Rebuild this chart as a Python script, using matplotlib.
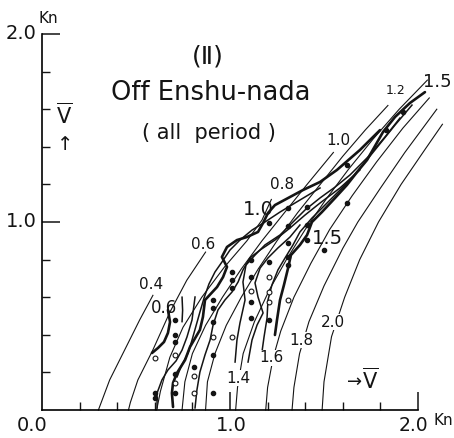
import numpy as np
import matplotlib.pyplot as plt

# curvas teoricas (parametro 0.4 ... 2.0), x = V escalar, y = V vectorial  [Kn]
t04 = [(0.30, 0.0), (0.33, 0.08), (0.36, 0.16), (0.43, 0.30), (0.52, 0.48), (0.59, 0.61)]
t06 = [(0.46, 0.0), (0.47, 0.04), (0.51, 0.16), (0.59, 0.32), (0.68, 0.52), (0.77, 0.69), (0.87, 0.84)]
t08 = [(0.61, 0.0), (0.63, 0.10), (0.68, 0.28), (0.75, 0.44), (0.85, 0.60), (0.97, 0.76),
       (1.09, 0.90), (1.17, 1.01), (1.22, 1.12)]
t10 = [(0.745, 0.0), (0.76, 0.15), (0.80, 0.30), (0.87, 0.45), (0.96, 0.60), (1.06, 0.75),
       (1.17, 0.90), (1.29, 1.05), (1.41, 1.20), (1.55, 1.37)]
t12 = [(0.87, 0.0), (0.88, 0.15), (0.92, 0.30), (0.98, 0.45), (1.06, 0.60), (1.15, 0.75),
       (1.25, 0.90), (1.36, 1.05), (1.48, 1.20), (1.60, 1.35), (1.72, 1.49), (1.84, 1.62)]
t14 = [(1.03, 0.0), (1.04, 0.12), (1.07, 0.30), (1.13, 0.47), (1.21, 0.64), (1.30, 0.80),
       (1.40, 0.96), (1.51, 1.12), (1.63, 1.28), (1.76, 1.44), (1.90, 1.60), (2.05, 1.755)]
t16 = [(1.19, 0.0), (1.20, 0.12), (1.23, 0.28), (1.27, 0.42), (1.34, 0.60), (1.43, 0.78),
       (1.53, 0.96), (1.65, 1.14), (1.78, 1.32), (1.92, 1.50), (2.06, 1.66)]
t18 = [(1.33, 0.0), (1.34, 0.12), (1.37, 0.30), (1.42, 0.47), (1.50, 0.66), (1.60, 0.86),
       (1.68, 1.00), (1.80, 1.18), (1.93, 1.37), (2.10, 1.60)]
t20 = [(1.49, 0.0), (1.50, 0.15), (1.54, 0.39), (1.61, 0.60), (1.69, 0.80), (1.79, 1.00),
       (1.91, 1.20), (2.04, 1.39), (2.13, 1.52)]

# curvas observadas (gruesas)
obs06 = [(0.585, 0.303), (0.617, 0.330), (0.649, 0.362), (0.670, 0.410), (0.681, 0.468), (0.670, 0.532)]
obs10 = [(0.697, 0.016), (0.691, 0.090), (0.697, 0.144), (0.718, 0.197), (0.761, 0.266), (0.787, 0.335),
         (0.840, 0.426), (0.856, 0.495), (0.867, 0.585), (0.931, 0.654), (0.963, 0.707), (0.984, 0.761),
         (0.957, 0.814), (0.984, 0.867), (1.037, 0.904), (1.090, 0.920), (1.149, 0.947), (1.176, 0.995),
         (1.202, 1.048), (1.239, 1.090), (1.319, 1.133), (1.388, 1.170), (1.479, 1.213), (1.569, 1.277),
         (1.691, 1.383), (1.798, 1.489)]
obs15 = [(1.239, 0.399), (1.250, 0.479), (1.266, 0.585), (1.287, 0.665), (1.309, 0.755), (1.324, 0.824),
         (1.372, 0.878), (1.410, 0.931), (1.436, 1.0), (1.489, 1.053), (1.559, 1.128), (1.622, 1.197),
         (1.676, 1.266), (1.729, 1.330), (1.814, 1.479), (1.878, 1.559), (1.957, 1.633), (2.037, 1.691)]

# otras curvas observadas (trazo medio)
m1 = [(0.612, 0.011), (0.612, 0.090), (0.638, 0.160), (0.670, 0.213), (0.713, 0.261), (0.745, 0.319),
      (0.771, 0.388), (0.798, 0.479), (0.814, 0.601)]
m2 = [(0.718, 0.176), (0.739, 0.229), (0.777, 0.303), (0.798, 0.372), (0.840, 0.521), (0.862, 0.596),
      (0.888, 0.670), (0.920, 0.734), (0.957, 0.787), (1.0, 0.851), (1.053, 0.904), (1.117, 0.957),
      (1.186, 1.0), (1.266, 1.053), (1.372, 1.117), (1.479, 1.181)]
m3 = [(0.814, 0.011), (0.824, 0.106), (0.840, 0.202), (0.867, 0.293), (0.894, 0.372), (0.910, 0.452),
      (0.936, 0.532), (0.973, 0.585), (1.011, 0.628), (1.043, 0.681), (1.069, 0.745), (1.106, 0.809),
      (1.160, 0.851), (1.239, 0.904), (1.319, 0.968), (1.399, 1.037), (1.479, 1.101), (1.585, 1.181),
      (1.691, 1.277)]
m4 = [(1.027, 0.255), (1.037, 0.372), (1.053, 0.463), (1.080, 0.585), (1.069, 0.681), (1.085, 0.771),
      (1.133, 0.824), (1.186, 0.878), (1.266, 0.931), (1.335, 1.0), (1.399, 1.064), (1.479, 1.128),
      (1.559, 1.186), (1.638, 1.250), (1.734, 1.346), (1.824, 1.452), (1.904, 1.553)]
m5 = [(1.096, 0.255), (1.117, 0.372), (1.144, 0.452), (1.176, 0.516), (1.149, 0.601), (1.133, 0.676),
      (1.160, 0.755), (1.202, 0.809), (1.255, 0.862), (1.319, 0.920), (1.372, 0.984)]
m6 = [(1.170, 0.309), (1.181, 0.388), (1.197, 0.489), (1.202, 0.585), (1.223, 0.665), (1.255, 0.745),
      (1.293, 0.809), (1.335, 0.878), (1.372, 0.947), (1.436, 1.021), (1.505, 1.090), (1.585, 1.170),
      (1.676, 1.266), (1.771, 1.383), (1.878, 1.516), (1.968, 1.622)]
m7 = [(0.745, 0.47), (0.748, 0.53), (0.745, 0.60)]

# puntos observados
dot_x = [0.60, 0.60, 0.71, 0.71, 0.71, 0.71, 0.71, 0.81, 0.91, 0.91, 0.91, 0.91, 0.91,
         1.01, 1.01, 1.01, 1.11, 1.11, 1.11, 1.11, 1.21, 1.21, 1.21,
         1.31, 1.31, 1.31, 1.31, 1.31, 1.41, 1.41, 1.41, 1.50, 1.62, 1.62, 1.83, 1.92]
dot_y = [0.09, 0.065, 0.479, 0.399, 0.362, 0.191, 0.09, 0.229, 0.585, 0.543, 0.468, 0.293, 0.09,
         0.734, 0.691, 0.649, 0.798, 0.707, 0.574, 0.489, 0.995, 0.787, 0.479,
         1.074, 0.979, 0.888, 0.814, 0.771, 1.08, 0.984, 0.904, 0.851, 1.101, 1.303, 1.49, 1.585]
ring_x = [0.60, 0.71, 0.71, 0.81, 0.81, 0.91, 1.01, 1.11, 1.21, 1.21, 1.21, 1.31]
ring_y = [0.277, 0.293, 0.144, 0.181, 0.09, 0.388, 0.388, 0.633, 0.707, 0.628, 0.574, 0.585]

k = '#141414'

fig = plt.figure(figsize=(4.54, 4.38), dpi=100)
ax = fig.add_axes([0, 0, 1, 1])
ax.set_xlim(-0.2234, 2.1915)
ax.set_ylim(-0.149, 2.181)

for c in [t04, t06, t08, t10, t12, t14, t16, t18, t20]:
	c = np.array(c)
	ax.plot(c[:, 0], c[:, 1], color=k, lw=0.8)

for c in [m1, m2, m3, m4, m5, m6, m7]:
	c = np.array(c)
	ax.plot(c[:, 0], c[:, 1], color=k, lw=1.1)

for c in [obs06, obs10, obs15]:
	c = np.array(c)
	ax.plot(c[:, 0], c[:, 1], color=k, lw=1.9, solid_capstyle='round')

ax.scatter(dot_x, dot_y, s=9, color=k, zorder=3)
ax.scatter(ring_x, ring_y, s=12, facecolor='white', edgecolor=k, linewidth=0.8, zorder=3)

# ejes
for s in ['top', 'right']:
	ax.spines[s].set_visible(False)
ax.spines['left'].set_position(('data', 0))
ax.spines['bottom'].set_position(('data', 0))
ax.spines['left'].set_bounds(0, 2.0)
ax.spines['bottom'].set_bounds(0, 2.0)
ax.spines['left'].set_linewidth(1.2)
ax.spines['bottom'].set_linewidth(1.2)

ax.set_xticks([1.0, 2.0])
ax.set_yticks([1.0, 2.0])
ax.set_xticks([0.2, 0.4, 0.6, 0.8, 1.2, 1.4, 1.6, 1.8], minor=True)
ax.set_yticks([0.2, 0.4, 0.6, 0.8, 1.2, 1.4, 1.6, 1.8], minor=True)
ax.tick_params(which='major', direction='in', length=13, width=1.1, color=k,
	labelbottom=False, labelleft=False)
ax.tick_params(which='minor', direction='in', length=5.5, width=1.0, color=k)

fs = 14
ax.text(-0.112, 2.005, '2.0', fontsize=fs, ha='center', va='center', color=k)
ax.text(0.034, 2.085, 'Kn', fontsize=11, ha='center', va='center', color=k)
ax.text(-0.112, 1.005, '1.0', fontsize=fs, ha='center', va='center', color=k)
ax.text(-0.053, -0.080, '0.0', fontsize=fs, ha='center', va='center', color=k)
ax.text(1.005, -0.080, '1.0', fontsize=fs, ha='center', va='center', color=k)
ax.text(1.975, -0.080, '2.0', fontsize=13.5, ha='center', va='center', color=k)
ax.text(2.135, -0.055, 'Kn', fontsize=11, ha='center', va='center', color=k)

ax.text(0.117, 1.569, r'$\overline{\mathrm{V}}$', fontsize=15, ha='center', va='center', color=k)
ax.text(0.122, 1.41, '↑', fontsize=14, ha='center', va='center', color=k)
ax.text(1.66, 0.150, '→', fontsize=13, ha='center', va='center', color=k)
ax.text(1.745, 0.158, r'$\overline{\mathrm{V}}$', fontsize=15, ha='center', va='center', color=k)

ax.text(0.883, 1.878, '(Ⅱ)', fontsize=18, ha='center', va='center', color=k)
ax.text(0.899, 1.686, 'Off Enshu-nada', fontsize=18.5, ha='center', va='center', color=k)
ax.text(0.888, 1.473, '( all  period )', fontsize=15, ha='center', va='center', color=k)

# etiquetas de las curvas
lab = dict(ha='center', va='center', color=k)
box = dict(facecolor='white', edgecolor='none', pad=0.5)
ax.text(0.580, 0.665, '0.4', fontsize=11, **lab)
ax.text(0.856, 0.878, '0.6', fontsize=11, **lab)
ax.text(0.649, 0.543, '0.6', fontsize=12, **lab)
ax.text(1.277, 1.202, '0.8', fontsize=11, **lab)
ax.text(1.149, 1.069, '1.0', fontsize=14, **lab)
ax.text(1.574, 1.436, '1.0', fontsize=11, **lab)
ax.text(1.878, 1.702, '1.2', fontsize=9, **lab)
ax.text(2.105, 1.745, '1.5', fontsize=13, **lab)
ax.text(1.516, 0.910, '1.5', fontsize=14, **lab)
ax.text(1.043, 0.170, '1.4', fontsize=11, bbox=box, **lab)
ax.text(1.223, 0.277, '1.6', fontsize=11, bbox=box, **lab)
ax.text(1.378, 0.372, '1.8', fontsize=11, bbox=box, **lab)
ax.text(1.548, 0.468, '2.0', fontsize=11, bbox=box, **lab)

plt.savefig('out.png', dpi=100)
plt.close()
